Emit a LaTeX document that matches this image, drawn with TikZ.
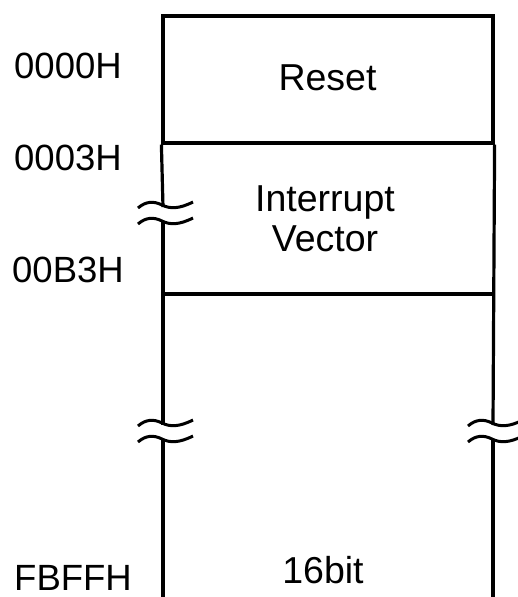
\documentclass[tikz,border=0pt]{standalone}
\usepackage{fontspec}
\setmainfont{Liberation Sans}
\usepackage{tikz}
\usetikzlibrary{positioning,calc}

\begin{document}
\begin{tikzpicture}[x=1pt,y=-1pt,
  memline/.style={line width=3.2pt,black},
  cutmark/.style={line width=3pt,black},
  addr/.style={anchor=base west,inner sep=0pt,font=\fontsize{36.5}{40}\selectfont},
  celltext/.style={inner sep=0pt,align=center,font=\fontsize{37.5}{40}\selectfont}]
\useasboundingbox (0,0) rectangle (518,597);

% memory cells
\node[draw,memline,minimum width=330pt,minimum height=127pt,inner sep=0pt]
      (reset) at (328,79.5) {};
\node[minimum width=330pt,minimum height=149pt,inner sep=0pt,below=0pt of reset]
      (vector) {};
\draw[memline] (vector.south west) -- (vector.south east);

% break points on the side lines
\coordinate (lcut1) at (163,213);
\coordinate (lcut2) at (163,431);
\coordinate (rcut) at (493,431);
\coordinate (lbot) at (163,600);
\coordinate (rbot) at (493,600);

\draw[memline] (reset.south west) -- ($(lcut1)+(0,-6)$);
\draw[memline] ($(lcut1)+(0,9)$) -- ($(lcut2)+(0,-6)$);
\draw[memline] ($(lcut2)+(0,9)$) -- (lbot);
\draw[memline] (reset.south east) -- ($(rcut)+(0,-6)$);
\draw[memline] ($(rcut)+(0,9)$) -- (rbot);

\foreach \b in {lcut1,lcut2,rcut}{
  \begin{scope}[shift={(\b)}]
    \foreach \dy in {-8,8}
      \draw[cutmark] (-25,\dy+3) .. controls (-17,\dy-4) and (-9,\dy-4) .. (-1,\dy)
                     .. controls (7,\dy+4) and (16,\dy+4) .. (30,\dy-3);
  \end{scope}
}

% labels
\node[addr] (a0000) at (14,78) {0000H};
\node[addr] (a0003) at (14,170) {0003H};
\node[addr] (a00b3) at (12,282) {00B3H};
\node[addr] (afbff) at (14,590) {FBFFH};

\node[celltext,anchor=base] (resettxt) at (327.5,90) {Reset};
\node[celltext] (vectortxt) at (325,218.5) {Interrupt\\Vector};
\node[celltext,anchor=base] (bittxt) at (323,583) {16bit};

\end{tikzpicture}
\end{document}
